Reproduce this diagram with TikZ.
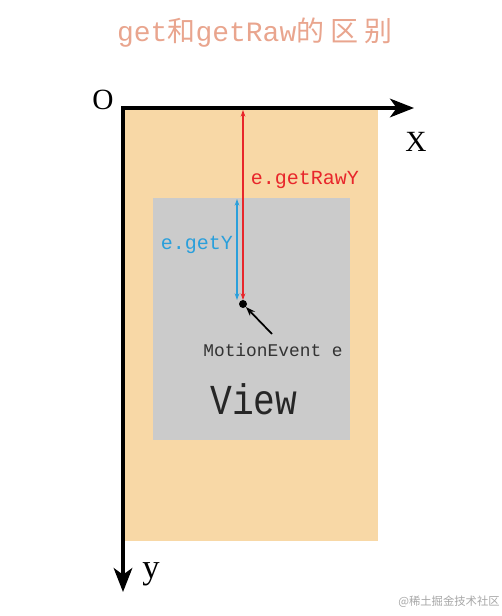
\documentclass[tikz,border=0pt]{standalone}
\usepackage{fontspec}
\setmainfont{Liberation Serif}
\newfontfamily\monof{Liberation Mono}
\newfontfamily\viewf[FakeStretch=0.85]{Liberation Mono}
\newfontfamily\cjk{Noto Sans CJK SC}
\usetikzlibrary{arrows.meta}
\definecolor{peach}{HTML}{F8D8A6}
\definecolor{viewgray}{HTML}{CBCBCB}
\definecolor{salmon}{HTML}{E9A58E}
\definecolor{eblue}{HTML}{2A9FDB}
\definecolor{ered}{HTML}{E8262B}
\definecolor{textgray}{HTML}{333333}
\tikzset{
  axis/.style={line width=2.3pt,-{Stealth[length=18pt,width=14pt,inset=5pt]}},
  measure/.style={line width=1.3pt,{Stealth[length=5pt,width=3.5pt]}-{Stealth[length=5pt,width=3.5pt]}},
  axlabel/.style={font=\fontsize{22}{22}\selectfont},
  monolabel/.style={font=\monof\fontsize{15}{15}\selectfont},
}
\begin{document}
\begin{tikzpicture}[x=0.75pt,y=-0.75pt]
\useasboundingbox (0,0) rectangle (502,616);
% title
\node[text=salmon,font=\monof\fontsize{21}{21}\selectfont] (title) at (255,33) {get{\cjk 和}getRaw{\cjk 的 区 别}};
% screen
\fill[peach] (123,108) rectangle (378,541);
\fill[viewgray] (153,198) rectangle (350,440);
% axes
\coordinate (o) at (123,108);
\coordinate (xend) at (414,108);
\coordinate (yend) at (123,592);
\draw[axis] ([xshift=-1.15pt]o) -- (xend);
\draw[axis] (o) -- (yend);
\node[axlabel] (O) at (103,100) {O};
\node[axlabel] (X) at (416,142) {X};
\node[axlabel,font=\fontsize{26}{26}\selectfont] (Y) at (151,574) {y};
% event point
\node[circle,fill=black,inner sep=0pt,minimum size=6pt] (e) at (243,304) {};
\coordinate (rtop) at (243,110);
\coordinate (rbot) at (243,300);
\coordinate (btop) at (237,199);
\coordinate (bbot) at (237,300);
\draw[measure,ered] (rtop) -- (rbot);
\draw[measure,eblue] (btop) -- (bbot);
\node[monolabel,text=ered] (raw) at (305,180) {e.getRawY};
\node[monolabel,text=eblue] (gety) at (197,245) {e.getY};
\node[font=\monof\fontsize{13.4}{13.4}\selectfont,text=textgray] (me) at (273,350) {MotionEvent e};
\coordinate (ptr) at (272,334);
\draw[line width=1.3pt,-{Stealth[length=7pt,width=5pt]}] (ptr) -- (e);
\node[font=\viewf\fontsize{32}{32}\selectfont,text=black!85] (view) at (254,399) {View};
\node[font=\cjk\fontsize{8.5}{8.5}\selectfont,text=gray!70] (wm) at (449,602) {@稀土掘金技术社区};
\end{tikzpicture}
\end{document}
